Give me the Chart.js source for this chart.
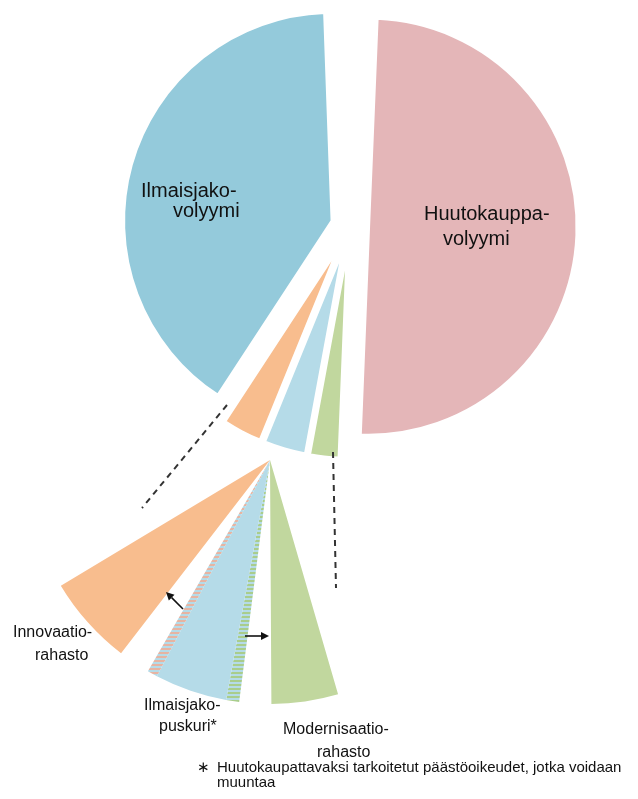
<!DOCTYPE html>
<html>
<head>
<meta charset="utf-8">
<script src="https://cdn.jsdelivr.net/npm/chart.js@4.4.1/dist/chart.umd.min.js"></script>
<style>
html, body { margin: 0; padding: 0; background: #fff; }
#wrap { position: relative; width: 638px; height: 799px; overflow: hidden; font-family: "Liberation Sans", Arial, sans-serif; color: #111; }
canvas { position: absolute; left: 0; top: 0; }
.lbl { position: absolute; white-space: nowrap; line-height: 1; }
</style>
</head>
<body>
<div id="wrap">
  <canvas id="pie" width="638" height="799"></canvas>
  <canvas id="zoom" width="638" height="799"></canvas>

  <div class="lbl" style="left:141px;top:180px;font-size:20px">Ilmaisjako-</div>
  <div class="lbl" style="left:173px;top:200px;font-size:20px">volyymi</div>
  <div class="lbl" style="left:424px;top:203px;font-size:20px">Huutokauppa-</div>
  <div class="lbl" style="left:443px;top:228px;font-size:20px">volyymi</div>

  <div class="lbl" style="left:13px;top:624px;font-size:16px">Innovaatio-</div>
  <div class="lbl" style="left:35px;top:647px;font-size:16px">rahasto</div>
  <div class="lbl" style="left:144px;top:697px;font-size:16px">Ilmaisjako-</div>
  <div class="lbl" style="left:159px;top:718px;font-size:16px">puskuri*</div>
  <div class="lbl" style="left:283px;top:721px;font-size:16px">Modernisaatio-</div>
  <div class="lbl" style="left:317px;top:744px;font-size:16px">rahasto</div>

  <div class="lbl" style="left:197px;top:759px;font-size:15px">∗</div>
  <div class="lbl" style="left:217px;top:759px;font-size:15px">Huutokaupattavaksi tarkoitetut päästöoikeudet, jotka voidaan</div>
  <div class="lbl" style="left:217px;top:774px;font-size:15px">muuntaa</div>
</div>

<script>
// osuudet kokonaismäärästä (%), järjestyksessä myötäpäivään ylhäältä
const osat = ['Huutokauppavolyymi', 'Modernisaatiorahasto', 'Ilmaisjakopuskuri', 'Innovaatiorahasto', 'Ilmaisjakovolyymi'];
const osuudet = [50.6, 2.3, 3.3, 3.1, 40.7];
const varit = ['#e4b6b8', '#c1d79e', '#b5dbe8', '#f8bd8e', '#94cadb'];
const irrotus = [18.6, 24, 24, 24, 18.6];   // px, sektorin siirto keskeltä ulospäin

// puskurista siirrettävät osuudet: [modernisaatiorahastoon, innovaatiorahastoon]
const puskuriSiirto = [0.45, 0.35];

// suurennoksen mittakaava ja raot
const ZOOM_ASTE = 6.9;   // astetta / prosenttiyksikkö
const RAKO = 1.1;

// merkinnät suurennoksen keskipisteestä (px)
const katkoviivat = [[-43, -55, -128, 48], [63, -8, 66, 128]];
const nuolet = [[-87, 149, -104, 132], [-25, 176, -1, 176]];

function raidat(vari, pohja) {
    const c = document.createElement('canvas');
    c.width = 4; c.height = 4;
    const g = c.getContext('2d');
    g.fillStyle = pohja; g.fillRect(0, 0, 4, 4);
    g.fillStyle = vari; g.fillRect(0, 0, 4, 2);
    return g.createPattern(c, 'repeat');
}

const yhteiset = {
    responsive: false,
    animation: false,
    events: [],
    plugins: { legend: { display: false }, tooltip: { enabled: false } }
};

// Chart.js:n oma offset kasvattaa myös sädettä, joten siirretään sektorit itse
const irrota = {
    id: 'irrota',
    beforeDatasetsDraw(chart) {
        chart.getDatasetMeta(0).data.forEach((el, i) => {
            if (el._irrotettu) return;
            const piirra = el.draw;
            el.draw = function (ctx, area) {
                const a = (this.startAngle + this.endAngle) / 2;
                ctx.save();
                ctx.translate(Math.cos(a) * irrotus[i], Math.sin(a) * irrotus[i]);
                piirra.call(this, ctx, area);
                ctx.restore();
            };
            el._irrotettu = true;
        });
    }
};

new Chart(document.getElementById('pie'), {
    type: 'pie',
    data: {
        labels: osat,
        datasets: [{
            data: osuudet,
            backgroundColor: varit,
            borderColor: '#fff',
            borderWidth: 3,
            clip: false
        }]
    },
    options: {
        ...yhteiset,
        rotation: 2.35,
        circumference: 355.6,
        radius: 208.5,
        layout: { padding: { left: 62, right: 0, top: 0, bottom: 347 } }
    },
    plugins: [irrota]
});

// suurennos: modernisaatio, rako, puskuri (3 osaa), rako, innovaatio, loput tyhjää
const [, moderni, puskuri, innov] = osuudet;
const puskuriYdin = puskuri - puskuriSiirto[0] - puskuriSiirto[1];
const zoomSumma = moderni + puskuri + innov + 2 * RAKO;
const zoomArvot = [moderni, RAKO, puskuriSiirto[0], puskuriYdin, puskuriSiirto[1], RAKO, innov, 360 / ZOOM_ASTE - zoomSumma];
const tyhja = 'rgba(0,0,0,0)';
const zoomVarit = [
    varit[1], tyhja,
    raidat('#a9cd8c', varit[2]), varit[2], raidat('#e6b4a2', varit[2]),
    tyhja, varit[3], tyhja
];

const merkinnat = {
    id: 'merkinnat',
    afterDatasetsDraw(chart) {
        const a = chart.getDatasetMeta(0).data[0];
        const cx = a.x, cy = a.y;
        const ctx = chart.ctx;
        ctx.save();
        ctx.strokeStyle = '#333';
        ctx.lineWidth = 2;
        ctx.setLineDash([6, 5]);
        katkoviivat.forEach(([x1, y1, x2, y2]) => {
            ctx.beginPath();
            ctx.moveTo(cx + x1, cy + y1);
            ctx.lineTo(cx + x2, cy + y2);
            ctx.stroke();
        });
        ctx.setLineDash([]);
        ctx.strokeStyle = '#111';
        ctx.fillStyle = '#111';
        ctx.lineWidth = 1.6;
        nuolet.forEach(([x1, y1, x2, y2]) => {
            const ang = Math.atan2(y2 - y1, x2 - x1);
            const hx = cx + x2, hy = cy + y2;
            const bx = hx - 8 * Math.cos(ang), by = hy - 8 * Math.sin(ang);
            ctx.beginPath();
            ctx.moveTo(cx + x1, cy + y1);
            ctx.lineTo(bx, by);
            ctx.stroke();
            ctx.beginPath();
            ctx.moveTo(hx, hy);
            ctx.lineTo(bx + 4 * Math.sin(ang), by - 4 * Math.cos(ang));
            ctx.lineTo(bx - 4 * Math.sin(ang), by + 4 * Math.cos(ang));
            ctx.closePath();
            ctx.fill();
        });
        ctx.restore();
    }
};

new Chart(document.getElementById('zoom'), {
    type: 'pie',
    data: {
        labels: ['Modernisaatiorahasto', '', 'siirto', 'Ilmaisjakopuskuri', 'siirto', '', 'Innovaatiorahasto', ''],
        datasets: [{
            data: zoomArvot,
            backgroundColor: zoomVarit,
            borderWidth: 0,
            clip: false
        }]
    },
    options: {
        ...yhteiset,
        rotation: 163.8,
        radius: 244,
        layout: { padding: { left: 0, right: 98, top: 121, bottom: 0 } }
    },
    plugins: [merkinnat]
});
</script>
</body>
</html>
